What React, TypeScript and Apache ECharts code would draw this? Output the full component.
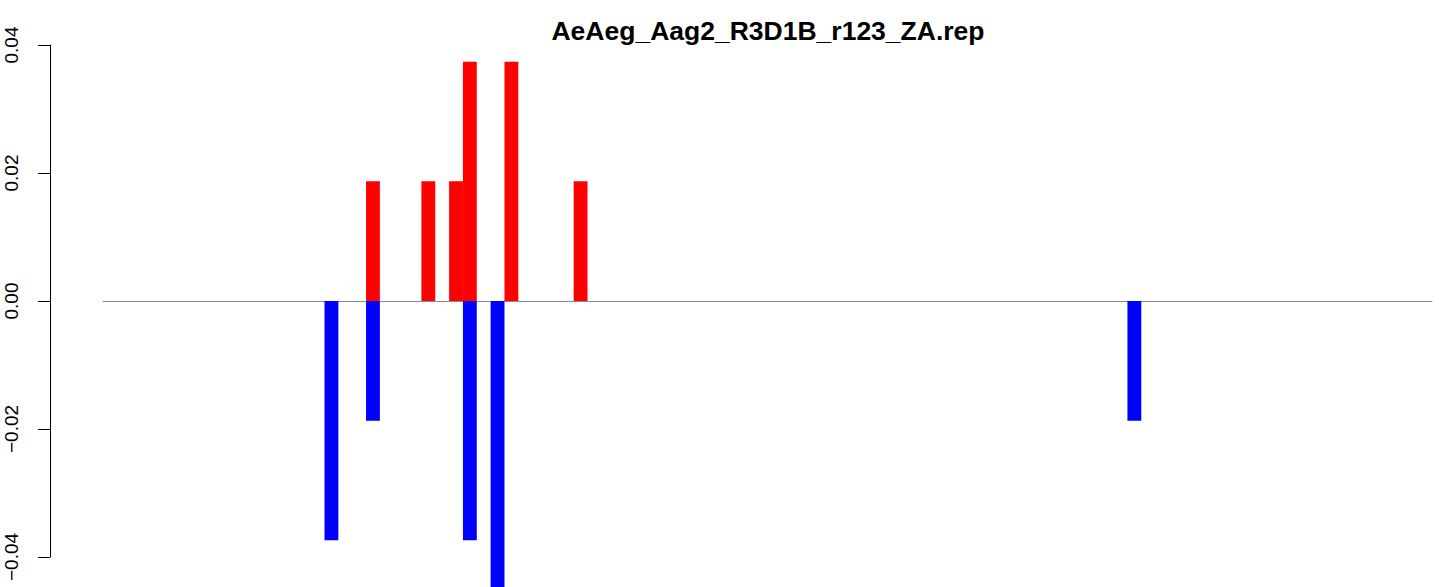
import React, { useEffect, useRef } from "react";
import * as echarts from "echarts";

const TITLE = "AeAeg_Aag2_R3D1B_r123_ZA.rep";
const BIN_COUNT = 96;
// positive (red) bars: bin index and value
const redBins = [19, 23, 25, 26, 29, 34];
const redValues = [0.0187, 0.0187, 0.0187, 0.0374, 0.0374, 0.0187];
// negative (blue) bars: bin index and value
const blueBins = [16, 19, 26, 28, 74];
const blueValues = [-0.0374, -0.0187, -0.0374, -0.0561, -0.0187];

function buildSeries(bins: number[], values: number[]) {
  const arr: (number | null)[] = new Array(BIN_COUNT).fill(null);
  bins.forEach((b, i) => {
    arr[b] = values[i];
  });
  return arr;
}

function fmt(v: number) {
  const s = Math.abs(v).toFixed(2);
  return v < 0 ? "\u2212" + s : s;
}

export default function App() {
  const ref = useRef<HTMLDivElement>(null);
  useEffect(() => {
    if (!ref.current) return;
    const chart = echarts.init(ref.current, undefined, { renderer: "svg" });
    const categories = Array.from({ length: BIN_COUNT }, (_, i) => String(i + 1));
    chart.setOption({
      animation: false,
      backgroundColor: "#ffffff",
      title: {
        text: TITLE,
        left: 763,
        textAlign: "center",
        top: 12,
        textStyle: {
          fontFamily: "Liberation Sans, Arial, sans-serif",
          fontWeight: "bold",
          fontSize: 26.5,
          color: "#000000",
        },
      },
      grid: { left: 103, right: 7, top: 45, bottom: 30, containLabel: false },
      xAxis: {
        type: "category",
        data: categories,
        boundaryGap: true,
        axisLine: { show: true, onZero: true, lineStyle: { color: "#8c8c8c", width: 1 } },
        axisTick: { show: false },
        axisLabel: { show: false },
        splitLine: { show: false },
      },
      yAxis: {
        type: "value",
        min: -0.04,
        max: 0.04,
        interval: 0.02,
        offset: 53,
        axisLine: { show: true, lineStyle: { color: "#000000", width: 1 } },
        axisTick: { show: true, length: 12, lineStyle: { color: "#000000", width: 1 } },
        axisLabel: {
          rotate: 90,
          margin: 29,
          fontSize: 19,
          fontFamily: "Liberation Sans, Arial, sans-serif",
          color: "#000000",
          formatter: (v: number) => fmt(v),
        },
        splitLine: { show: false },
      },
      series: [
        {
          type: "bar",
          name: "positive",
          data: buildSeries(redBins, redValues),
          barWidth: "100%",
          barGap: "-100%",
          clip: false,
          itemStyle: { color: "#ff0000" },
        },
        {
          type: "bar",
          name: "negative",
          data: buildSeries(blueBins, blueValues),
          barWidth: "100%",
          barGap: "-100%",
          clip: false,
          itemStyle: { color: "#0000ff" },
        },
      ],
    });
    return () => chart.dispose();
  }, []);
  return (
    <div
      ref={ref}
      style={{ position: "fixed", left: 0, top: 0, width: 1439, height: 587, background: "#fff" }}
    />
  );
}
